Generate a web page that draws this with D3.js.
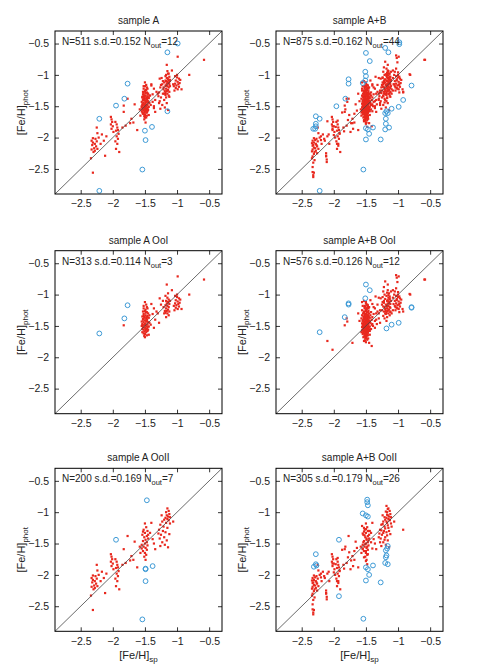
<!DOCTYPE html>
<html><head><meta charset="utf-8">
<script src="https://cdn.jsdelivr.net/npm/d3@7"></script>
<style>body{margin:0;background:#fff}text{font-family:"Liberation Sans",Arial,sans-serif;fill:#222}</style>
</head><body><svg id="c" width="491" height="665"></svg>
<script>
const titles = ["sample A","sample A+B","sample A OoI","sample A+B OoI","sample A OoII","sample A+B OoII"];
const nVals = [511,875,313,576,200,305];
const sdVals = ["0.152","0.162","0.114","0.126","0.169","0.179"];
const noutVals = [12,44,3,12,7,26];
const tickVals = [-2.5,-2,-1.5,-1,-0.5];

// red points (inliers) by subsample
const aOoI = [[-1.53,-1.27],[-1.5,-1.26],[-1.47,-1.28],[-1.45,-1.3],[-1.52,-1.31],[-1.49,-1.33],[-1.46,-1.34],[-1.54,-1.35],[-1.51,-1.37],[-1.48,-1.38],[-1.44,-1.37],[-1.53,-1.4],[-1.5,-1.41],[-1.47,-1.42],[-1.45,-1.44],[-1.52,-1.44],[-1.49,-1.46],[-1.54,-1.47],[-1.46,-1.48],[-1.51,-1.49],[-1.48,-1.5],[-1.44,-1.51],[-1.53,-1.52],[-1.5,-1.53],[-1.47,-1.54],[-1.52,-1.56],[-1.49,-1.57],[-1.45,-1.56],[-1.51,-1.59],[-1.48,-1.6],[-1.5,-1.63],[-1.47,-1.65],[-1.52,-1.62],[-1.55,-1.5],[-1.55,-1.43],[-1.43,-1.45],[-1.43,-1.33],[-1.49,-1.24],[-1.46,-1.22],[-1.52,-1.22],[-1.44,-1.64],[-1.5,-1.68],[-1.53,-1.39],[-1.47,-1.36],[-1.5,-1.47],[-1.46,-1.52],[-1.54,-1.55],[-1.48,-1.43],[-1.52,-1.34],[-1.49,-1.29],
[-1.5,-1.12],[-1.48,-1.16],[-1.52,-1.18],[-1.47,-1.2],[-1.54,-1.6],[-1.46,-1.58],[-1.51,-1.66],[-1.535,-1.485],[-1.465,-1.395],[-1.505,-1.355],[-1.485,-1.555],
[-1.4,-1.15],[-1.36,-1.22],[-1.38,-1.31],[-1.34,-1.4],[-1.3,-1.3],[-1.28,-1.45],[-1.41,-1.48],[-1.32,-1.27],[-1.27,-1.06],[-1.36,-1.53],
[-1.16,-0.84],[-1.14,-0.98],[-1.18,-1.02],[-1.15,-1.05],[-1.13,-1.08],[-1.17,-1.1],[-1.14,-1.12],[-1.16,-1.14],[-1.12,-1.15],[-1.18,-1.17],[-1.15,-1.18],[-1.13,-1.2],[-1.17,-1.22],[-1.14,-1.24],[-1.16,-1.26],[-1.12,-1.27],[-1.18,-1.29],[-1.15,-1.3],[-1.13,-1.33],[-1.17,-1.36],[-1.21,-1.2],[-1.22,-1.1],[-1.2,-1.3],[-1.11,-1.1],[-1.19,-1.26],
[-1.03,-1.02],[-1.0,-1.04],[-0.97,-1.06],[-1.02,-1.09],[-0.99,-1.11],[-1.03,-1.14],[-0.98,-1.15],[-1.01,-1.17],[-0.97,-1.19],[-1.02,-1.21],[-0.99,-1.23],[-1.04,-1.25],[-0.96,-1.13],[-1.0,-1.0],[-0.99,-0.71],[-0.93,-1.23],[-1.05,-1.18],[-0.95,-1.08],
[-0.81,-1.0],[-0.58,-0.76],[-1.83,-1.49],[-1.08,-0.93],[-1.25,-1.16]];

const aOoII = [[-2.34,-2.33],[-2.31,-2.56],[-2.33,-2.05],[-2.31,-2.08],[-2.28,-2.1],[-2.32,-2.12],[-2.26,-2.14],[-2.29,-2.17],[-2.33,-2.19],[-2.25,-2.06],[-2.24,-2.18],[-2.3,-2.23],[-2.27,-2.02],[-2.31,-2.01],[-2.28,-2.21],[-2.25,-1.84],[-2.24,-1.93],[-2.22,-2.0],[-2.12,-2.29],[-2.17,-1.95],[-2.14,-2.05],[-2.1,-1.98],[-2.19,-2.1],
[-2.03,-1.67],[-2.02,-1.71],[-2.01,-1.75],[-2.03,-1.79],[-2.0,-1.82],[-2.02,-1.86],[-1.99,-1.91],
[-1.96,-1.75],[-1.94,-1.79],[-1.93,-1.84],[-1.95,-1.89],[-1.91,-1.94],[-1.94,-1.98],[-1.92,-2.02],[-1.96,-2.06],[-1.93,-2.1],[-1.95,-2.18],[-1.9,-2.23],[-1.92,-1.88],
[-1.77,-1.38],[-1.83,-1.59],[-1.73,-1.77],[-1.71,-1.7],[-1.66,-1.47],[-1.62,-1.88],[-1.85,-1.84],[-1.8,-1.81],[-1.68,-1.76],
[-1.5,-1.18],[-1.48,-1.24],[-1.52,-1.28],[-1.46,-1.3],[-1.5,-1.33],[-1.54,-1.36],[-1.47,-1.38],[-1.51,-1.4],[-1.45,-1.42],[-1.49,-1.44],[-1.53,-1.46],[-1.47,-1.48],[-1.5,-1.5],[-1.55,-1.52],[-1.46,-1.53],[-1.52,-1.55],[-1.49,-1.57],[-1.47,-1.6],[-1.53,-1.62],[-1.5,-1.65],[-1.48,-1.68],[-1.51,-1.71],[-1.49,-1.76],[-1.55,-1.58],[-1.45,-1.36],[-1.53,-1.31],[-1.58,-1.55],[-1.57,-1.65],
[-1.4,-1.17],[-1.34,-1.59],[-1.38,-1.43],[-1.42,-1.33],[-1.36,-1.5],
[-1.15,-0.94],[-1.13,-0.98],[-1.17,-1.0],[-1.12,-1.03],[-1.16,-1.05],[-1.14,-1.07],[-1.11,-1.08],[-1.18,-1.09],[-1.15,-1.11],[-1.13,-1.13],[-1.2,-1.12],[-1.23,-1.15],[-1.17,-1.17],[-1.26,-1.2],[-1.21,-1.23],[-1.15,-1.25],[-1.28,-1.28],[-1.22,-1.3],[-1.18,-1.32],[-1.25,-1.36],[-1.2,-1.4],[-1.27,-1.42],[-1.16,-1.45],[-1.23,-1.48],[-1.19,-1.52],[-1.14,-1.56],[-1.29,-1.34],[-1.24,-1.05],[-1.06,-1.15],[-1.11,-1.18],[-1.12,-1.35],[-1.26,-1.54]];

const bOoI = [[-1.56,-1.12],[-1.53,-1.1],[-1.5,-1.14],[-1.47,-1.17],[-1.55,-1.18],[-1.52,-1.2],[-1.49,-1.23],[-1.56,-1.25],[-1.53,-1.28],[-1.5,-1.31],[-1.47,-1.32],[-1.56,-1.33],[-1.53,-1.36],[-1.49,-1.38],[-1.46,-1.4],[-1.55,-1.41],[-1.52,-1.43],[-1.48,-1.45],[-1.56,-1.46],[-1.5,-1.48],[-1.47,-1.5],[-1.54,-1.51],[-1.51,-1.54],[-1.48,-1.55],[-1.56,-1.57],[-1.53,-1.58],[-1.5,-1.6],[-1.47,-1.61],[-1.55,-1.63],[-1.52,-1.65],[-1.49,-1.66],[-1.54,-1.68],[-1.51,-1.7],[-1.48,-1.72],[-1.45,-1.77],[-1.53,-1.74],[-1.5,-1.76],[-1.57,-1.6],[-1.57,-1.38],[-1.46,-1.26],[-1.44,-1.58],[-1.45,-1.2],
[-1.545,-1.3],[-1.515,-1.32],[-1.485,-1.34],[-1.455,-1.36],[-1.54,-1.4],[-1.505,-1.39],[-1.475,-1.41],[-1.44,-1.42],[-1.53,-1.45],[-1.5,-1.44],[-1.465,-1.46],[-1.545,-1.49],[-1.515,-1.5],[-1.485,-1.52],[-1.455,-1.53],[-1.53,-1.55],[-1.495,-1.57],[-1.465,-1.58],[-1.54,-1.61],[-1.51,-1.63],[-1.48,-1.64],[-1.525,-1.67],[-1.495,-1.69],[-1.465,-1.7],[-1.515,-1.73],[-1.41,-1.4],[-1.42,-1.55],[-1.4,-1.47],[-1.56,-1.52],[-1.49,-1.16],[-1.51,-1.19],[-1.48,-1.21],[-1.5,-1.24],
[-1.42,-1.28],[-1.4,-1.36],[-1.38,-1.2],[-1.36,-1.42],[-1.34,-1.3],[-1.32,-1.16],[-1.3,-1.38],[-1.28,-1.25],[-1.43,-1.09],[-1.35,-1.03],[-1.39,-1.5],[-1.33,-1.47],[-1.3,-1.05],[-1.41,-1.82],
[-1.22,-0.88],[-1.2,-0.79],[-1.23,-0.95],[-1.21,-1.0],[-1.24,-1.04],[-1.2,-1.07],[-1.22,-1.13],[-1.19,-1.16],[-1.23,-1.19],[-1.2,-1.23],[-1.22,-1.27],[-1.19,-1.31],[-1.23,-1.34],[-1.21,-1.38],[-1.18,-1.42],[-1.16,-0.93],[-1.13,-1.03],[-1.12,-1.21],[-1.1,-1.3],[-1.11,-0.95],
[-1.17,-0.97],[-1.15,-1.01],[-1.13,-1.06],[-1.16,-1.09],[-1.14,-1.14],[-1.17,-1.19],[-1.15,-1.24],[-1.12,-1.28],[-1.06,-1.0],[-1.08,-1.05],[-1.05,-1.1],[-1.07,-1.15],[-1.04,-1.2],[-1.08,-1.25],[-1.05,-0.95],[-1.24,-1.12],[-1.25,-1.25],
[-1.03,-0.69],[-1.02,-0.73],[-1.01,-0.8],[-1.03,-0.9],[-1.0,-0.96],[-0.98,-1.03],[-1.02,-1.07],[-0.99,-1.16],[-1.01,-1.22],[-0.98,-1.28],[-0.92,-1.27],[-0.82,-0.99],[-0.59,-0.76],
[-2.1,-1.74],[-2.02,-1.88],[-1.71,-1.77],[-1.8,-1.38],[-1.79,-1.43],[-1.6,-1.42],[-1.62,-1.3]];

const bOoII = [[-2.33,-2.47],[-2.33,-2.55],[-2.32,-2.6],[-2.32,-2.63],[-2.34,-2.09],[-2.33,-2.13],[-2.31,-2.16],[-2.34,-2.22],[-2.31,-2.26],[-2.33,-2.3],[-2.3,-2.36],[-2.29,-2.04],[-2.27,-2.12],[-2.26,-2.25],[-2.32,-2.4],
[-2.12,-2.25],[-2.12,-2.3],[-2.11,-2.35],[-2.11,-2.39],[-2.15,-2.02],[-2.2,-1.98],[-2.2,-2.04],[-2.07,-2.1],[-2.08,-1.95],
[-2.02,-1.82],[-2.0,-1.96],[-1.98,-2.0],[-1.95,-2.1],[-1.93,-2.13],[-1.94,-1.73],[-1.97,-1.83],[-1.91,-1.93],
[-1.87,-1.6],[-1.84,-1.9],[-1.82,-1.55],[-1.78,-1.72],[-1.76,-1.64],[-1.74,-1.91],[-1.7,-1.86],[-1.68,-1.62],[-1.64,-1.57],
[-1.56,-1.22],[-1.53,-1.25],[-1.5,-1.27],[-1.47,-1.3],[-1.55,-1.34],[-1.52,-1.37],[-1.49,-1.42],[-1.46,-1.45],[-1.54,-1.48],[-1.51,-1.51],[-1.48,-1.55],[-1.55,-1.59],[-1.5,-1.62],[-1.47,-1.67],[-1.53,-1.72],[-1.5,-1.78],[-1.48,-1.83],[-1.44,-1.3],[-1.42,-1.48],[-1.4,-1.58],
[-1.18,-0.9],[-1.16,-0.95],[-1.19,-0.99],[-1.17,-1.04],[-1.21,-1.08],[-1.18,-1.15],[-1.24,-1.19],[-1.16,-1.21],[-1.2,-1.26],[-1.23,-1.33],[-1.17,-1.37],[-1.21,-1.44],[-1.26,-1.29],[-1.13,-1.12],[-1.14,-1.3],[-1.28,-1.48],[-0.92,-1.28],[-1.1,-1.23],[-1.3,-1.4]];

// outliers (blue circles) per panel
const out1 = [[-0.99,-0.5],[-1.15,-0.64],[-1.77,-1.14],[-1.82,-1.38],[-1.95,-1.49],[-2.21,-1.7],[-1.15,-1.58],[-1.5,-1.89],[-1.39,-1.83],[-1.49,-2.04],[-1.54,-2.51],[-2.21,-2.85]];
const out2 = [[-0.98,-0.48],[-0.98,-0.51],[-1.2,-0.57],[-1.15,-0.64],[-1.5,-0.65],[-1.44,-0.78],[-1.51,-0.95],[-1.5,-1.02],[-1.51,-1.09],[-1.77,-1.07],[-1.77,-1.14],[-1.55,-1.13],[-1.82,-1.38],[-1.96,-1.5],[-2.28,-1.66],[-2.22,-1.7],[-2.28,-1.78],[-2.28,-1.82],[-2.29,-1.86],[-2.32,-1.86],[-1.5,-1.85],[-1.47,-1.87],[-1.45,-1.94],[-1.39,-1.84],[-1.5,-2.03],[-1.27,-2.03],[-1.54,-2.51],[-2.22,-2.85],[-1.2,-1.61],[-1.18,-1.58],[-1.16,-1.61],[-1.19,-1.78],[-1.2,-1.87],[-1.14,-1.84],[-1.19,-1.7],[-1.1,-1.54],[-0.99,-1.51],[-0.92,-1.4],[-0.79,-1.17]];
const out3 = [[-2.21,-1.62],[-1.82,-1.38],[-1.77,-1.17]];
const out4 = [[-1.5,-0.84],[-1.44,-0.93],[-1.51,-1.06],[-1.77,-1.14],[-1.77,-1.16],[-1.83,-1.36],[-2.22,-1.6],[-1.18,-1.54],[-1.1,-1.48],[-0.99,-1.45],[-0.79,-1.2],[-0.79,-1.21]];
const out5 = [[-1.47,-0.81],[-1.95,-1.44],[-1.49,-1.91],[-1.49,-1.9],[-1.38,-1.86],[-1.49,-2.1],[-1.54,-2.71]];
const out6 = [[-1.92,-1.44],[-2.28,-1.67],[-2.31,-1.87],[-2.28,-1.83],[-2.27,-1.85],[-1.92,-2.34],[-1.54,-2.7],[-1.55,-1.02],[-1.5,-1.05],[-1.47,-1.07],[-1.48,-0.8],[-1.48,-0.84],[-1.47,-0.89],[-1.5,-1.88],[-1.47,-1.91],[-1.39,-1.85],[-1.45,-2.0],[-1.5,-2.09],[-1.27,-2.12],[-1.16,-1.54],[-1.19,-1.61],[-1.18,-1.69],[-1.19,-1.72],[-1.2,-1.81],[-1.16,-1.83],[-1.17,-1.58]];

const reds = [aOoI.concat(aOoII), aOoI.concat(aOoII, bOoI, bOoII), aOoI, aOoI.concat(bOoI), aOoII, aOoII.concat(bOoII)];
const outs = [out1, out2, out3, out4, out5, out6];

const svg = d3.select("#c");
const W = 167, H = 163;
const lefts = [55, 276], tops = [31, 250.7, 468.3];
const fmt = d3.format("~g");
const red = "#e8281e", blue = "#3d9ad6";
const FS = 10;

titles.forEach((t, i) => {
  const col = i % 2, row = Math.floor(i / 2);
  const g = svg.append("g").attr("transform", `translate(${lefts[col]},${tops[row]})`);
  const x = d3.scaleLinear().domain([-2.9, -0.3]).range([0, W]);
  const y = d3.scaleLinear().domain([-2.9, -0.3]).range([H, 0]);

  g.append("g").selectAll("rect").data(reds[i]).join("rect")
    .attr("x", d => x(d[0]) - 1.1).attr("y", d => y(d[1]) - 1.1)
    .attr("width", 2.2).attr("height", 2.2).attr("fill", red);

  g.append("line").attr("x1", x(-2.9)).attr("y1", y(-2.9)).attr("x2", x(-0.3)).attr("y2", y(-0.3))
    .attr("stroke", "#444").attr("stroke-width", 0.8);

  g.append("g").selectAll("circle").data(outs[i]).join("circle")
    .attr("cx", d => x(d[0])).attr("cy", d => y(d[1])).attr("r", 2.4)
    .attr("fill", "none").attr("stroke", blue).attr("stroke-width", 1);

  const ax = [
    [d3.axisBottom(x).tickValues(tickVals).tickSize(-4).tickPadding(6).tickFormat(fmt), `translate(0,${H})`],
    [d3.axisTop(x).tickValues(tickVals).tickSize(-4).tickFormat(""), `translate(0,0)`],
    [d3.axisLeft(y).tickValues(tickVals).tickSize(-4).tickPadding(6).tickFormat(fmt), `translate(0,0)`],
    [d3.axisRight(y).tickValues(tickVals).tickSize(-4).tickFormat(""), `translate(${W},0)`]
  ];
  ax.forEach(([a, tr]) => {
    const ag = g.append("g").attr("transform", tr).call(a);
    ag.select(".domain").remove();
    ag.selectAll(".tick line").attr("stroke", "#000").attr("stroke-width", 0.8);
    ag.selectAll(".tick text").attr("font-size", 10.5).attr("font-family", '"Liberation Sans",Arial,sans-serif').attr("fill", "#222");
  });
  g.append("rect").attr("width", W).attr("height", H).attr("fill", "none").attr("stroke", "#000").attr("stroke-width", 1);

  g.append("text").attr("x", W / 2).attr("y", -7).attr("text-anchor", "middle").attr("font-size", FS).text(t);

  const st = g.append("text").attr("x", 7).attr("y", 14).attr("font-size", FS);
  st.append("tspan").text(`N=${nVals[i]} s.d.=${sdVals[i]} N`);
  st.append("tspan").attr("dy", 3).attr("font-size", 7.5).text("out");
  st.append("tspan").attr("dy", -3).text(`=${noutVals[i]}`);

  const yl = g.append("text").attr("transform", `translate(-30,${H / 2}) rotate(-90)`).attr("text-anchor", "middle").attr("font-size", 11);
  yl.append("tspan").text("[Fe/H]");
  yl.append("tspan").attr("dy", 3).attr("font-size", 8).text("phot");

  if (row === 2) {
    const xl = g.append("text").attr("x", W / 2).attr("y", H + 28).attr("text-anchor", "middle").attr("font-size", 11);
    xl.append("tspan").text("[Fe/H]");
    xl.append("tspan").attr("dy", 3).attr("font-size", 8).text("sp");
  }
});
</script></body></html>
